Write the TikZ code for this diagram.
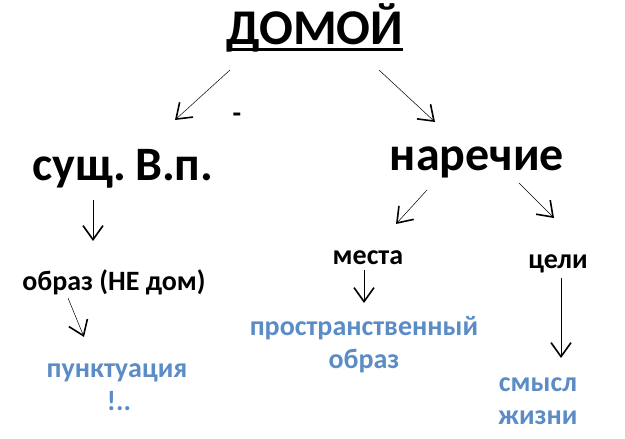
\documentclass[tikz,border=0pt]{standalone}
\usepackage{fontspec}
\setmainfont{Carlito}
\usetikzlibrary{arrows.meta}
\definecolor{wordblue}{RGB}{92,140,198}

\tikzset{
  arr/.style={line width=0.5pt,-{Straight Barb[length=14pt,width=20pt,line width=1.6pt]}},
  titleword/.style={font=\fontsize{50}{54}\selectfont\bfseries,inner sep=0pt,anchor=base},
  bigword/.style={font=\fontsize{48}{52}\selectfont\bfseries,inner sep=0pt,anchor=base},
  midword/.style={font=\fontsize{28}{32}\selectfont\bfseries,inner sep=0pt,anchor=base},
  blueword/.style={font=\fontsize{28}{32}\selectfont\bfseries,text=wordblue,inner sep=0pt,anchor=base}
}

\begin{document}
\begin{tikzpicture}[x=1pt,y=-1pt]
\useasboundingbox[fill=white] (0,0) rectangle (625,439);

\node[titleword] (domoy) at (315,45) {ДОМОЙ};
\draw[line width=3pt] ([shift={(0,4)}]domoy.base west) -- ([shift={(0,4)}]domoy.base east);
\node[midword] (dash) at (237,122) {-};

\node[bigword] (sush) at (123,180) {сущ.\hskip 9pt В.п.};
\node[bigword] (narech) at (477,170) {наречие};

\node[midword] (obraz) at (114,290) {образ (НЕ дом)};
\node[midword] (mesta) at (368,264) {места};
\node[midword] (celi) at (558,268) {цели};

\node[blueword] (punkt) at (117,377) {пунктуация};
\node[blueword] (punkt2) at (119,410) {!..};
\node[blueword] (prostr) at (364,335) {пространственный};
\node[blueword] (prostr2) at (364,368) {образ};
\node[blueword] (smysl) at (538,391) {смысл};
\node[blueword] (smysl2) at (538,424) {жизни};

% arrows
\draw[arr] ([shift={(-85,25)}]domoy.base) -- ([shift={(52,-60)}]sush.base);
\draw[arr] ([shift={(64,25)}]domoy.base) -- ([shift={(-42,-48)}]narech.base);
\draw[arr] ([shift={(-50,20)}]narech.base) -- ([shift={(28,-40)}]mesta.base);
\draw[arr] ([shift={(42,13)}]narech.base) -- ([shift={(-4,-50)}]celi.base);
\draw[arr] ([shift={(-30,20)}]sush.base) -- ([shift={(-21,-49)}]obraz.base);
\draw[arr] ([shift={(-46,8)}]obraz.base) -- ([shift={(-33,-40)}]punkt.base);
\draw[arr] ([shift={(-4,6)}]mesta.base) -- ([shift={(0,-32)}]prostr.base);
\draw[arr] ([shift={(3,10)}]celi.base) -- ([shift={(23,-33)}]smysl.base);
\end{tikzpicture}
\end{document}
